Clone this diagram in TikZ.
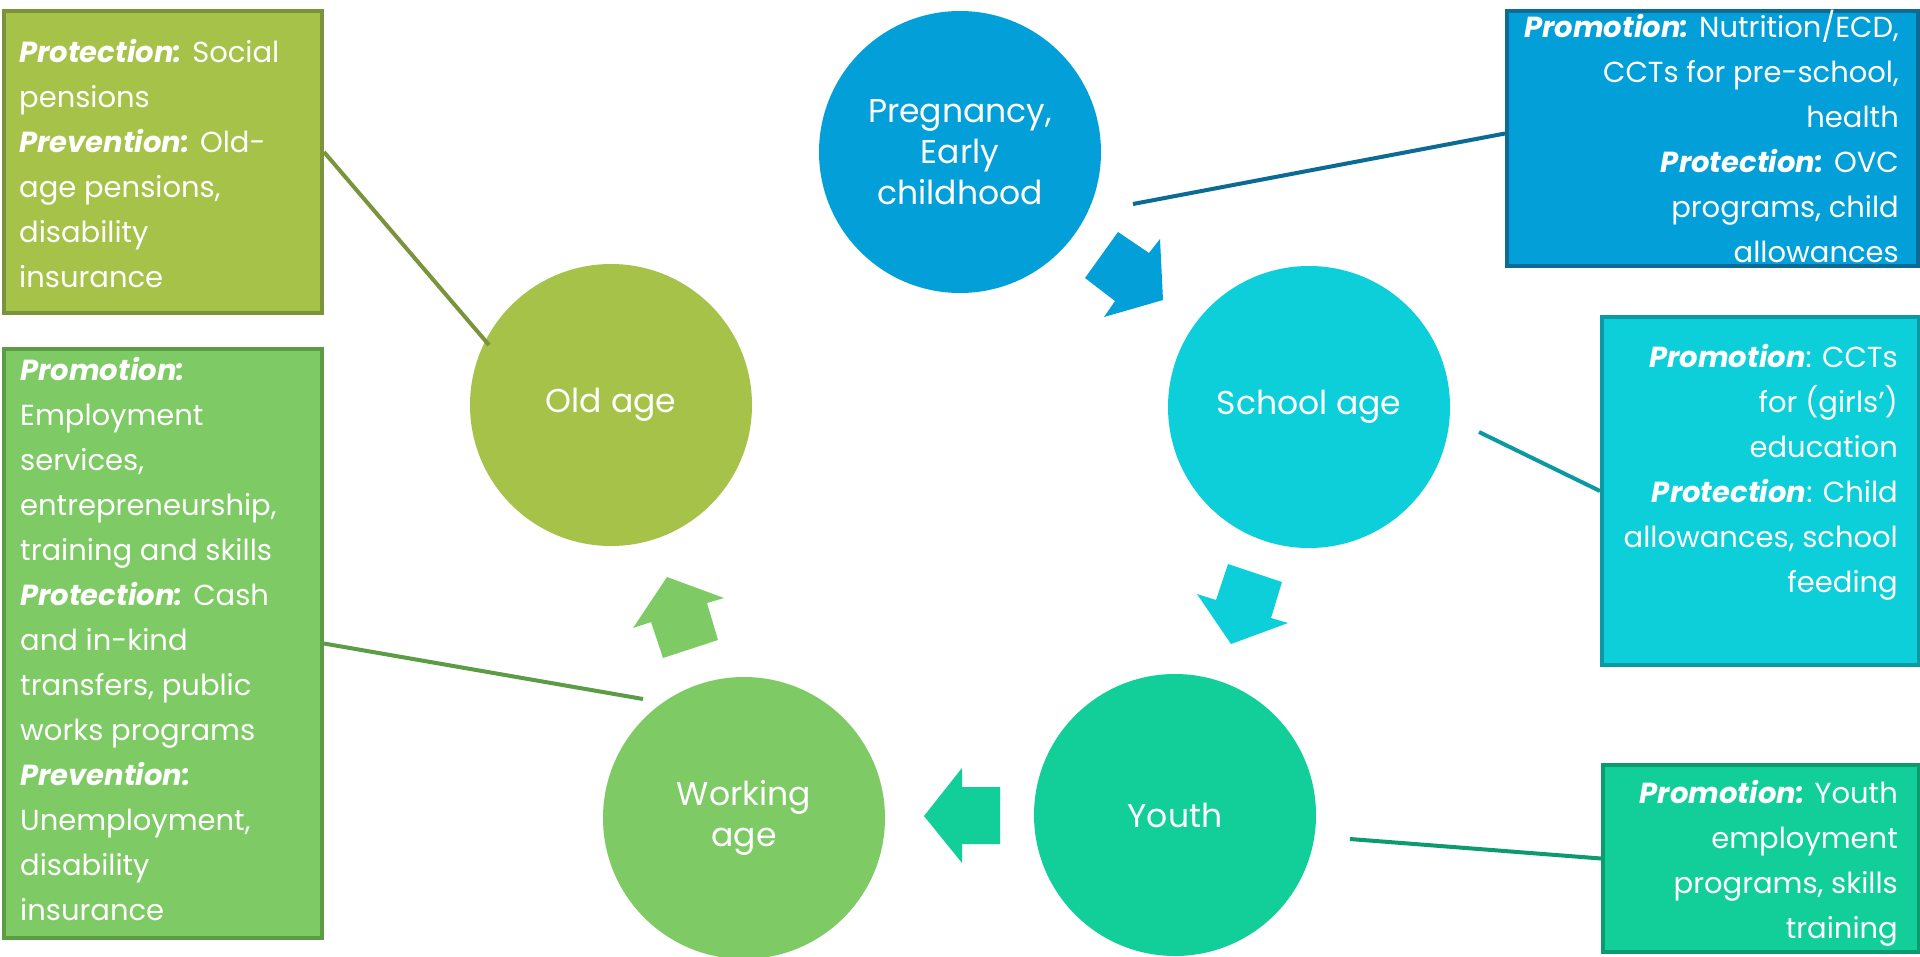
\documentclass[tikz,border=0pt]{standalone}
\usepackage{fontspec}
\setmainfont{Poppins}
\usetikzlibrary{calc}

\definecolor{cPreg}{HTML}{039FD8}
\definecolor{cPregD}{HTML}{0C6B95}
\definecolor{cSchool}{HTML}{0CCFDA}
\definecolor{cSchoolD}{HTML}{0B9AA3}
\definecolor{cYouth}{HTML}{12CF99}
\definecolor{cYouthD}{HTML}{0C9A6E}
\definecolor{cWork}{HTML}{7ECA64}
\definecolor{cWorkD}{HTML}{5B9C45}
\definecolor{cOld}{HTML}{A6C249}
\definecolor{cOldD}{HTML}{7B933A}

\newcommand{\lead}[1]{\textbf{\textit{#1}}}

\begin{document}
\begin{tikzpicture}[x=1pt,y=-1pt,
  stage/.style={circle, minimum size=282pt, inner sep=0pt, text=white,
    align=center, font=\fontsize{33}{41}\selectfont},
  infobox/.style={rectangle, anchor=north west, line width=4pt, inner sep=0pt},
  infotext/.style={inner sep=0pt, text=white, font=\fontsize{29}{45}\selectfont},
  link/.style={line width=4pt},
]
\useasboundingbox (0,0) rectangle (1920,956);
\fill[white] (0,0) rectangle (1920,956);

% life-cycle stages
\node[stage, fill=cPreg]   (preg)   at (960,152)  {Pregnancy,\\Early\\childhood};
\node[stage, fill=cSchool] (school) at (1309,407) {School age};
\node[stage, fill=cYouth]  (youth)  at (1175,815) {Youth};
\node[stage, fill=cWork]   (work)   at (744,818)  {Working\\age};
\node[stage, fill=cOld]    (old)    at (611,405)  {Old age};

% block arrows between the stages
\fill[cPreg] (1118,232) -- (1149,253) -- (1160,239) -- (1163,300) -- (1104,317)
  -- (1115,301) -- (1085,278) -- cycle;
\fill[cSchool] (1228,564) -- (1282,582) -- (1271,618) -- (1288,623) -- (1231,644)
  -- (1197,594) -- (1216,600) -- cycle;
\fill[cYouth] (1000,787) -- (1000,844) -- (962,844) -- (962,863) -- (924,816)
  -- (962,768) -- (962,787) -- cycle;
\fill[cWork] (667,577) -- (724,598) -- (707,603) -- (718,640) -- (663,658)
  -- (651,622) -- (633,628) -- cycle;

% programme boxes
\node[infobox, draw=cOldD, fill=cOld, minimum width=318pt, minimum height=302pt] (b1) at (2,9) {};
\node[infobox, draw=cWorkD, fill=cWork, minimum width=318pt, minimum height=589pt] (b2) at (2,347) {};
\node[infobox, draw=cPregD, fill=cPreg, minimum width=411pt, minimum height=255pt] (b3) at (1505,9) {};
\node[infobox, draw=cSchoolD, fill=cSchool, minimum width=317pt, minimum height=348pt] (b4) at (1600,315) {};
\node[infobox, draw=cYouthD, fill=cYouth, minimum width=316pt, minimum height=187pt] (b5) at (1601,763) {};

\node[infotext, anchor=base west] (t1) at (19,62) {\begin{tabular}[t]{@{}l@{}}
\lead{Protection:} Social\\
pensions\\
\lead{Prevention:} Old-\\
age pensions,\\
disability\\
insurance
\end{tabular}};

\node[infotext, anchor=base west] (t2) at (20,380) {\begin{tabular}[t]{@{}l@{}}
\lead{Promotion:}\\
Employment\\
services,\\
entrepreneurship,\\
training and skills\\
\lead{Protection:} Cash\\
and in-kind\\
transfers, public\\
works programs\\
\lead{Prevention:}\\
Unemployment,\\
disability\\
insurance
\end{tabular}};

\node[infotext, anchor=base east] (t3) at (1899,37) {\begin{tabular}[t]{@{}r@{}}
\lead{Promotion:} Nutrition/ECD,\\
CCTs for pre-school,\\
health\\
\lead{Protection:} OVC\\
programs, child\\
allowances
\end{tabular}};

\node[infotext, anchor=base east] (t4) at (1898,367) {\begin{tabular}[t]{@{}r@{}}
\lead{Promotion}: CCTs\\
for (girls’)\\
education\\
\lead{Protection}: Child\\
allowances, school\\
feeding
\end{tabular}};

\node[infotext, anchor=base east] (t5) at (1898,803) {\begin{tabular}[t]{@{}r@{}}
\lead{Promotion:} Youth\\
employment\\
programs, skills\\
training
\end{tabular}};

% leader lines from stages to their boxes
\coordinate (e1) at (1133,204);
\coordinate (e2) at (1479,432);
\coordinate (e3) at (1350,839);
\coordinate (e4) at (643,699);
\coordinate (e5) at (489,345);
\draw[link, draw=cPregD]   (e1) -- ($(b3.west)+(0,-5)$);
\draw[link, draw=cSchoolD] (e2) -- (b4.west);
\draw[link, draw=cYouthD]  (e3) -- (b5.west);
\draw[link, draw=cWorkD]   (e4) -- (b2.east);
\draw[link, draw=cOldD]    (e5) -- ($(b1.east)+(0,-10)$);
\end{tikzpicture}
\end{document}
